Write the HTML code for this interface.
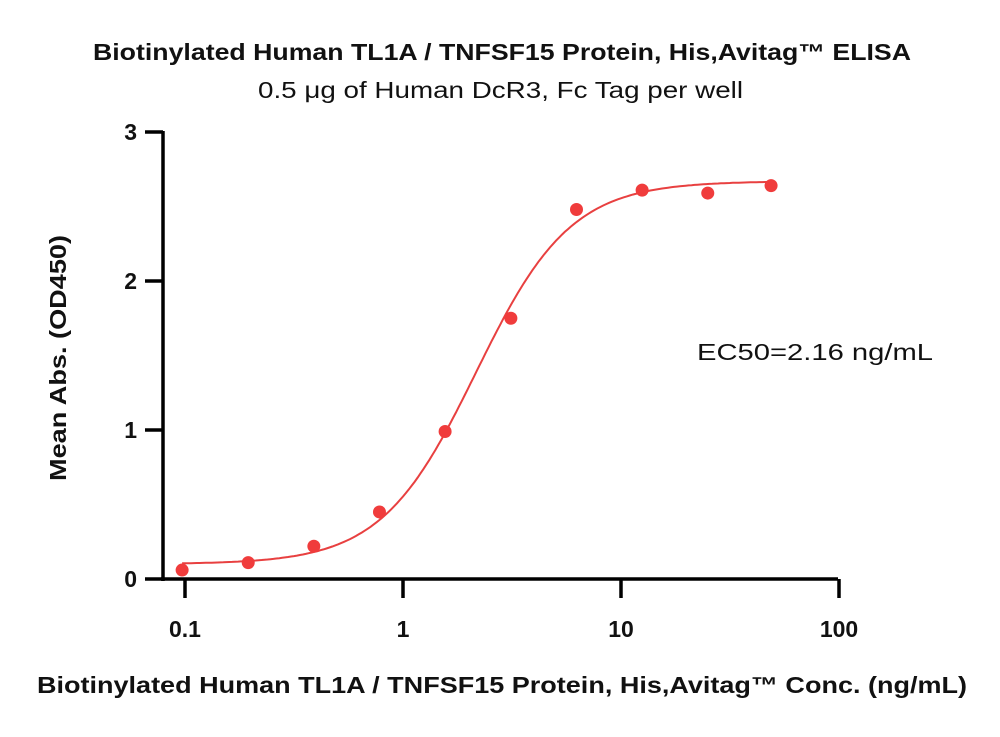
<!DOCTYPE html>
<html><head><meta charset="utf-8"><style>
body{margin:0;background:#fff;}
svg text{font-family:"Liberation Sans",sans-serif;}
</style></head><body>
<svg id="chart" width="1000" height="732" viewBox="0 0 1000 732">
<text x="93" y="60" textLength="818" lengthAdjust="spacingAndGlyphs" font-size="23" font-weight="bold" fill="#111">Biotinylated Human TL1A / TNFSF15 Protein, His,Avitag™ ELISA</text>
<text x="258" y="98" textLength="485" lengthAdjust="spacingAndGlyphs" font-size="23" fill="#111">0.5 μg of Human DcR3, Fc Tag per well</text>
<text x="66" y="358" text-anchor="middle" textLength="246" lengthAdjust="spacingAndGlyphs" font-size="23" font-weight="bold" fill="#111" transform="rotate(-90 66 358)">Mean Abs. (OD450)</text>
<text x="37" y="693" textLength="930" lengthAdjust="spacingAndGlyphs" font-size="23" font-weight="bold" fill="#111">Biotinylated Human TL1A / TNFSF15 Protein, His,Avitag™ Conc. (ng/mL)</text>
<text x="697" y="360" textLength="236" lengthAdjust="spacingAndGlyphs" font-size="23" fill="#111">EC50=2.16 ng/mL</text>
<g id="axes"></g>
<g id="curve"></g>
<g id="points"></g>
</svg>
<script>
const concs=[0.097,0.195,0.39,0.78,1.56,3.125,6.25,12.5,25,48.8];
const absValues=[0.06,0.11,0.22,0.45,0.99,1.75,2.48,2.61,2.59,2.64];
const fitParams=[0.1,2.67,2.16,2.0]; // bottom, top, ec50, hill
const xTicks=[0.1,1,10,100];
const xTickLabels=["0.1","1","10","100"];
const yTicks=[0,1,2,3];
const yTickLabels=["0","1","2","3"];

const NS="http://www.w3.org/2000/svg";
const xs=v=>185+218*Math.log10(v/0.1);
const ys=v=>579-149*v;
function mk(tag,attrs,parent){const e=document.createElementNS(NS,tag);for(const k in attrs)e.setAttribute(k,attrs[k]);parent.appendChild(e);return e;}
const axes=document.getElementById('axes');
let a=mk('line',{x1:163,y1:ys(3)-1,x2:163,y2:581,stroke:'#000','stroke-width':3.5},axes);


a=mk('line',{x1:161,y1:579,x2:838,y2:579,stroke:'#000','stroke-width':3.5},axes);


xTicks.forEach((t,i)=>{
 const l=mk('line',{x1:xs(t),y1:579,x2:xs(t),y2:598,stroke:'#000','stroke-width':3.5},axes);
 
 
 const tx=mk('text',{x:xs(t),y:637,'text-anchor':'middle','font-size':23,'font-weight':'bold',fill:'#111'},axes);
 tx.textContent=xTickLabels[i];
 
 
});
yTicks.forEach((t,i)=>{
 const l=mk('line',{x1:145,y1:ys(t),x2:163,y2:ys(t),stroke:'#000','stroke-width':3.5},axes);
 
 
 const tx=mk('text',{x:137,y:ys(t)+8,'text-anchor':'end','font-size':23,'font-weight':'bold',fill:'#111'},axes);
 tx.textContent=yTickLabels[i];
 
 
});
const [b,tp,ec,h]=fitParams;
let d='';
for(let i=0;i<=200;i++){
 const lx=Math.log10(concs[0])+(Math.log10(concs[concs.length-1])-Math.log10(concs[0]))*i/200;
 const x=Math.pow(10,lx);
 const y=b+(tp-b)/(1+Math.pow(ec/x,h));
 d+=(i?'L':'M')+xs(x).toFixed(1)+','+ys(y).toFixed(1);
}
const c=mk('path',{d:d,fill:'none',stroke:'#e84040','stroke-width':2},document.getElementById('curve'));


const pg=document.getElementById('points');
concs.forEach((x,i)=>{
 const p=mk('circle',{cx:xs(x),cy:ys(absValues[i]),r:6.5,fill:'#f03c3c'},pg);
 
 
});
</script>
</body></html>
